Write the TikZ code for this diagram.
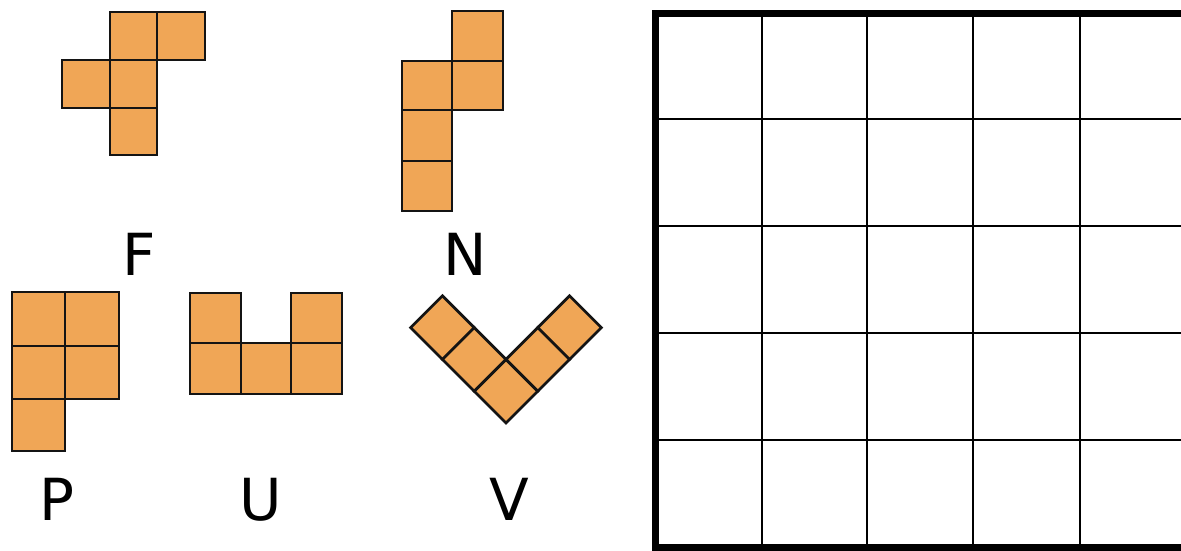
\documentclass[tikz,border=0pt]{standalone}
\usepackage{fontspec}
\setmainfont{DejaVu Sans}
\definecolor{tile}{RGB}{240,166,86}
\definecolor{edge}{RGB}{20,20,20}
\begin{document}
\begin{tikzpicture}[x=1pt,y=-1pt,
  cell/.style={fill=tile,draw=edge,line width=2.7pt,line join=miter},
  gridthin/.style={draw=black,line width=2.4pt},
  gridthick/.style={draw=black,line width=7pt},
  lbl/.style={anchor=base,inner sep=0pt,font=\fontsize{58}{60}\selectfont}]
\clip (0,0) rectangle (1181,551);
\useasboundingbox (0,0) rectangle (1181,551);
% F
\draw[cell] (110,12) rectangle (157,60);
\draw[cell] (157,12) rectangle (205,60);
\draw[cell] (62,60) rectangle (110,108);
\draw[cell] (110,60) rectangle (157,108);
\draw[cell] (110,108) rectangle (157,155);
% N
\draw[cell] (452,11) rectangle (503,61);
\draw[cell] (402,61) rectangle (452,110);
\draw[cell] (452,61) rectangle (503,110);
\draw[cell] (402,110) rectangle (452,161);
\draw[cell] (402,161) rectangle (452,211);
% P
\draw[cell] (12,292) rectangle (65,346);
\draw[cell] (65,292) rectangle (119,346);
\draw[cell] (12,346) rectangle (65,399);
\draw[cell] (65,346) rectangle (119,399);
\draw[cell] (12,399) rectangle (65,451);
% U
\draw[cell] (190,293) rectangle (241,343);
\draw[cell] (291,293) rectangle (342,343);
\draw[cell] (190,343) rectangle (241,394);
\draw[cell] (241,343) rectangle (291,394);
\draw[cell] (291,343) rectangle (342,394);
% V
\begin{scope}[shift={(506,423)},x={(31.8pt,31.8pt)},y={(-31.8pt,31.8pt)}]
\draw[cell] (0,0) -- (1,0) -- (1,1) -- (0,1) -- cycle;
\draw[cell] (0,1) -- (1,1) -- (1,2) -- (0,2) -- cycle;
\draw[cell] (0,2) -- (1,2) -- (1,3) -- (0,3) -- cycle;
\draw[cell] (1,0) -- (2,0) -- (2,1) -- (1,1) -- cycle;
\draw[cell] (2,0) -- (3,0) -- (3,1) -- (2,1) -- cycle;
\end{scope}
% labels
\node[lbl] (lF) at (139,275) {F};
\node[lbl] (lN) at (465,275) {N};
\node[lbl] (lP) at (57,520) {P};
\node[lbl] (lU) at (261,520) {U};
\node[lbl] (lV) at (509,520) {V};
% grid
\foreach \x in {762,867,973,1080} \draw[gridthin] (\x,13) -- (\x,548);
\foreach \y in {119,226,333,440} \draw[gridthin] (655,\y) -- (1186,\y);
\draw[gridthick] (655.5,13.5) rectangle (1186,547.5);
\end{tikzpicture}
\end{document}
